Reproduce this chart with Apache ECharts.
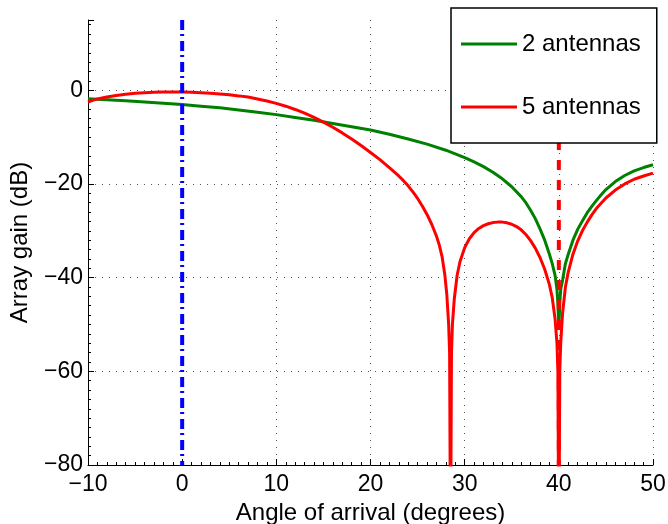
<!DOCTYPE html>
<html>
<head>
<meta charset="utf-8">
<title>Array gain vs angle of arrival</title>
<script src="https://cdn.jsdelivr.net/npm/echarts@6/dist/echarts.min.js"></script>
<style>
  html, body { margin: 0; padding: 0; background: #fff; }
  #chart { width: 668px; height: 524px; }
</style>
</head>
<body>
<div id="chart"></div>
<script>
// Angle of arrival (degrees) and array gain (dB) for the 2-antenna beamformer
const angles2 = [-10, -8, -6, -4, -2, 0, 2, 4, 6, 8, 10, 12, 14, 16, 18, 20, 22, 24, 26, 28,
  30, 31, 32, 33, 34, 35, 36, 36.5, 37, 37.5, 38, 38.5, 39, 39.3, 39.6, 39.8, 39.9, 40,
  40.1, 40.2, 40.4, 40.7, 41, 41.5, 42, 42.5, 43, 43.5, 44, 44.5, 45, 46, 47, 48, 49, 50];
const gain2 = [-1.8, -2.0, -2.25, -2.5, -2.75, -3.05, -3.4, -3.75, -4.2, -4.7, -5.2, -5.8, -6.4,
  -7.1, -7.8, -8.5, -9.4, -10.4, -11.5, -12.8, -14.4, -15.3, -16.3, -17.5, -18.9, -20.6, -22.7,
  -24.0, -25.6, -27.4, -29.6, -32.0, -35.0, -37.0, -39.5, -42.5, -45.5, -51,
  -45.5, -42.5, -40.5, -37.0, -35.0, -32.0, -29.7, -27.9, -26.2, -24.8, -23.5, -22.3,
  -21.2, -19.5, -18.2, -17.2, -16.5, -15.9];

// Angle of arrival (degrees) and array gain (dB) for the 5-antenna beamformer
const angles5 = [-10, -9.5, -9, -8, -7, -6, -5, -4, -3, -2, -1, 0, 1, 2, 3, 4, 5, 6, 7, 8, 9,
  10, 11, 12, 13, 14, 15, 16, 17, 18, 19, 20, 21, 22, 23, 23.5, 24, 24.5, 25, 25.5, 26, 26.5,
  27, 27.3, 27.6, 27.9, 28.1, 28.3, 28.4, 28.5, 28.6, 28.7, 28.9, 29.2, 29.5, 30, 30.5, 31,
  31.5, 32, 32.5, 33, 33.5, 34, 34.5, 35, 35.5, 36, 36.5, 37, 37.5, 38, 38.5, 39, 39.3, 39.6,
  39.8, 39.9, 40, 40.1, 40.2, 40.4, 40.7, 41, 41.5, 42, 42.5, 43, 43.5, 44, 45, 46, 47, 48,
  49, 50];
const gain5 = [-2.5, -2.15, -1.85, -1.42, -1.1, -0.85, -0.66, -0.52, -0.42, -0.37, -0.35, -0.37,
  -0.42, -0.52, -0.65, -0.8, -0.98, -1.2, -1.45, -1.85, -2.3, -2.8, -3.4, -4.1, -4.9, -5.8,
  -6.8, -7.9, -9.1, -10.4, -11.8, -13.3, -14.8, -16.5, -18.3, -19.3, -20.4, -21.7, -23.1,
  -24.7, -26.5, -28.6, -31.1, -33.0, -35.5, -39.5, -43.5, -50, -56, -100, -56, -50, -44.5,
  -39.5, -36.6, -33.6, -31.7, -30.4, -29.5, -28.9, -28.5, -28.25, -28.15, -28.15, -28.3,
  -28.6, -29.1, -29.8, -30.8, -32.1, -33.7, -35.7, -38.2, -41.5, -44.3, -48.8, -54, -60,
  -100, -60, -54, -47.5, -42, -38.8, -35, -32.2, -30, -28.2, -26.6, -25.2, -23.0, -21.3,
  -20.0, -19.0, -18.3, -17.7];

// Direction of the desired signal and of the interferer (degrees)
const desiredAngle = 0;
const interfererAngle = 40;

// Axis ranges and tick spacing
const xRange = [-10, 50];
const yRange = [-80, 15];
const xStep = 10;
const yStep = 20;

const seriesNames = ['2 antennas', '5 antennas'];

const pairs = (xs, ys) => xs.map((x, i) => [x, ys[i]]);
const minusFmt = v => (v < 0 ? '\u2212' + Math.abs(v) : String(v));

const FONT = '"Liberation Sans", Arial, Helvetica, sans-serif';
const gridDots = { color: '#555', width: 1, type: [1, 6] };

const chart = echarts.init(document.getElementById('chart'), null, { renderer: 'canvas' });

chart.setOption({
  animation: false,
  backgroundColor: '#fff',
  textStyle: { fontFamily: FONT, color: '#000' },
  grid: { left: 88, right: 15, top: 20, bottom: 59, containLabel: false, outerBoundsMode: 'none' },
  legend: {
    data: seriesNames,
    orient: 'vertical',
    left: 451,
    top: 8,
    icon: 'rect',
    itemWidth: 56,
    itemHeight: 3,
    itemGap: 35,
    padding: [22, 16, 22, 10],
    backgroundColor: '#fff',
    borderColor: '#000',
    borderWidth: 1.5,
    z: 10,
    textStyle: { fontFamily: FONT, fontSize: 24, color: '#000', lineHeight: 28 }
  },
  xAxis: {
    type: 'value',
    min: xRange[0],
    max: xRange[1],
    interval: xStep,
    name: 'Angle of arrival (degrees)',
    nameLocation: 'middle',
    nameGap: 33,
    nameTextStyle: { fontFamily: FONT, fontSize: 24, color: '#000' },
    axisLine: { show: true, onZero: false, lineStyle: { color: '#000', width: 1 } },
    axisTick: { show: true, inside: true, length: 6, lineStyle: { color: '#000' } },
    minorTick: { show: true, splitNumber: 10, length: 3, lineStyle: { color: '#000' } },
    axisLabel: { fontFamily: FONT, fontSize: 23, color: '#000', margin: 8, formatter: minusFmt },
    splitLine: { show: true, showMinLine: false, lineStyle: gridDots }
  },
  yAxis: {
    type: 'value',
    min: yRange[0],
    max: yRange[1],
    interval: yStep,
    name: 'Array gain (dB)',
    nameLocation: 'middle',
    nameGap: 56,
    nameTextStyle: { fontFamily: FONT, fontSize: 24, color: '#000' },
    axisLine: { show: true, onZero: false, lineStyle: { color: '#000', width: 1 } },
    axisTick: { show: true, inside: true, length: 6, lineStyle: { color: '#000' } },
    minorTick: { show: true, splitNumber: 10, length: 3, lineStyle: { color: '#000' } },
    axisLabel: { fontFamily: FONT, fontSize: 23, color: '#000', margin: 5,
      showMaxLabel: false, formatter: minusFmt },
    splitLine: { show: true, showMinLine: false, showMaxLine: false, lineStyle: gridDots }
  },
  series: [
    {
      name: seriesNames[0],
      type: 'line',
      data: pairs(angles2, gain2),
      showSymbol: false,
      clip: true,
      z: 2,
      color: '#008000',
      lineStyle: { color: '#008000', width: 3 }
    },
    {
      name: seriesNames[1],
      type: 'line',
      data: pairs(angles5, gain5),
      showSymbol: false,
      clip: true,
      z: 3,
      color: '#ff0000',
      lineStyle: { color: '#ff0000', width: 3 }
    },
    {
      name: 'desired',
      type: 'line',
      data: [[desiredAngle, yRange[1]], [desiredAngle, yRange[0]]],
      showSymbol: false,
      z: 4,
      color: '#0000ff',
      lineStyle: { color: '#0000ff', width: 4, type: [10, 4, 2, 5], cap: 'butt' }
    },
    {
      name: 'interferer',
      type: 'line',
      data: [[interfererAngle, yRange[1]], [interfererAngle, yRange[0]]],
      showSymbol: false,
      z: 4,
      color: '#ff0000',
      lineStyle: { color: '#ff0000', width: 4, type: [10, 10], cap: 'butt' }
    }
  ]
});
</script>
</body>
</html>
